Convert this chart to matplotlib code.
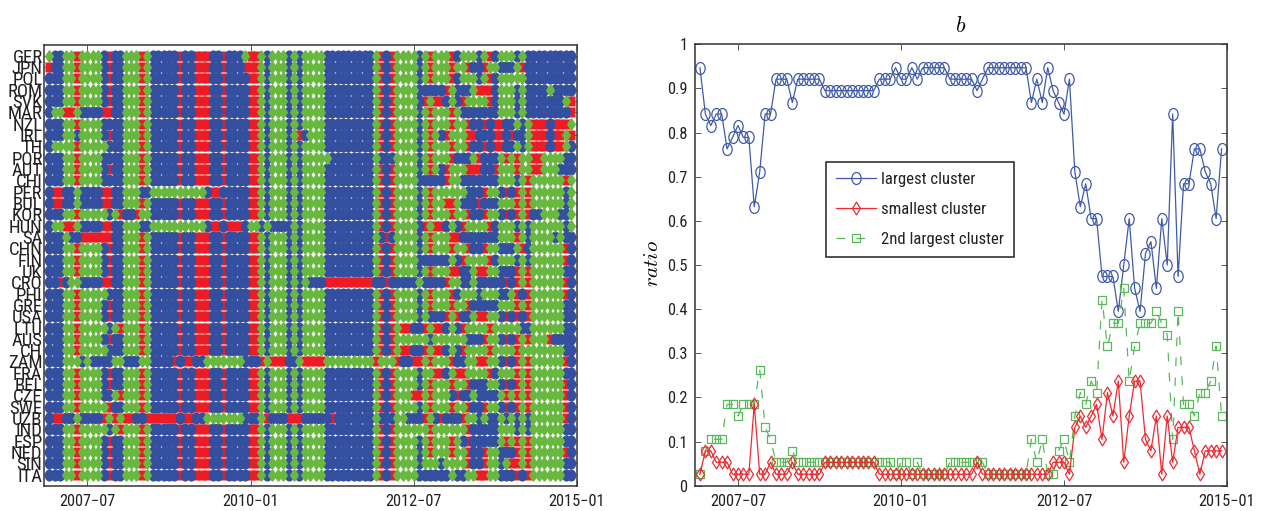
"""Cluster membership of 38 countries over time, and cluster size ratios."""

import numpy as np
import matplotlib
matplotlib.use("Agg")
import matplotlib.pyplot as plt
from matplotlib.path import Path

plt.rcParams["font.family"] = ["Roboto Condensed", "Roboto", "Liberation Sans", "DejaVu Sans"]
plt.rcParams["mathtext.fontset"] = "cm"

countries = ["GER", "JPN", "POL", "ROM", "SVK", "MAR", "NZL", "IRL", "TH", "POR", "AUT", "CHI", "PER",
             "BUL", "KOR", "HUN", "SA", "CHN", "FIN", "UK", "CRO", "PHI", "GRE", "USA", "LTU", "AUS",
             "CH", "ZAM", "FRA", "BEL", "CZE", "SWE", "UZB", "IND", "ESP", "NED", "SIN", "ITA"]

# one letter per month, 2006-12 to 2014-12 (b/r/g = cluster)
membership = [
    "gbbggrgggg brbbgggrgb bbbbrbbrrr bbrbbbgrrg bgggbgbggg gbbbbbbbbb grbrggggbg rgggrbgggb grbgggbgbb bbbbbbb",
    "rbbggrgggg brbbgggrgb bbbbrbbrrr bbrbbbrrrg bgggbgbggg gbbbbbbbbb grbrggggbg rgggrggrbb rggbbbgrbb bbbbbbb",
    "bbbggrgggg brbbgggrgb bbbbrbbrrr bbrbbbbrrg bgggbgbggg gbbbbbbbbb grbrggggbg rgggrbgggb grbgggggbb bbbbbbb",
    "bbbggrgggg brbbgggrgb bbbbrbbrrr bbrbbbbrrg bgggbgbggg gbbbbbbbbb grbrggggbb bbbrgbbbgr rrbgggbgbb bbgbbbb",
    "bbbggrgggg brbbgggrgb bbbbrbbrrr bbrbbbbrrg bgggbgbggg gbbbbbbbbb grbrggggbr grrbgbrggg grbgggbgbb bbbbbgr",
    "bggrrgbbbb rrbbgggrgb bbbbrbbrrr bbrbbbbrrg bgggbgbggg gbbbbbbbbb grbrggggbg rgggrgbbbb bbbgggbgbb bbbbbbr",
    "bbbggrgggg bbbbgggrgb bbbbrbbrrr bbrbbbbrrg bgggbgbggg gbbbbbbbbb grbrggggbg rgggrggrbb rbrrbbgbgr rrbrrrg",
    "bbbggbgggg brbbgggrgb bbbbrbbrrr bbrbbbbrrg bgggbgrbgg gbbbbbbbbb grbrggggbg rgbrgggrrb bbrrbrbbgr rrbrrgr",
    "bggggrgggg gbbbgggrgb bbbbrbbrrr bbrbbbbrrg bgggbgbggg gbbbbbbbbb grbrggggbg rgggrggrbb rbrrbbgbgr rrbrrgb",
    "bbbggrgggg bbbbgggrgb bbbbrbbrrr bbrbbbbrrg bgggbgbggg ggbbbbbbbb gbbbggggbg rgggrbbbgr bbbgrgrggr rggggbb",
    "bbbggrgggg brbbgggrgb bbbbrbbrrr bbrbbbbrrg bgggbgbggg gbbbbbbbbb grbrggggbg rgbrgggrrr bbrgggrggr rgggbbb",
    "bbbggrgggg bbbbgggrgb bbbbrbbrrr bbrbbbbrrg bgggbgbggg gbbbbbbbbb grbrggggbb bbbrggbbbb bbbgggbgrg gggggrg",
    "brrbbgbbbb rrbbgggbbg gggggggggb rrbbbbbrrg bgggbgbggg gbbbbbbbbb grbrggggbg rggggggbbb rggbrbrgrg gggggbg",
    "brrbbgbbbb rrbbgggrgb bbbbrbbrrr bbrbbbbrrg bgggbgbggg gbbbbbbbbb grbrggggbg rggrrgbbbr bbbgggrgrg gggggbg",
    "bbbggrgggg gbgrbbrggb bbbbrbbrrr bbrbbbbrrg bgggbgbggg gbbbbbbbbb grbrggggbg rgggrggrbb rggbrbrgrb bgggbbg",
    "bggrrgbbbb rrbbgggbbg gggggggggb rrbrrrbggb gbbbbgbggg gbbbbbbbbb grbrggggbr grrbgbrggg grbgggbgbg gggggbg",
    "bbbgbbrrrr rrbbgggrgb bbbbrbbrrr bbrbbbbrrg bgggbgbggg gbbbbbbbbb gbrbggggbg rgggrrbbbb bbbgggrgbg gggbgbb",
    "bbbggrgggg brbbgggrgb bbbbrbbrrr bbrbbbbrrg bgggbgbggg gbbbbbbbbb grbrggggbg rgggrggrbb rggbbbgrbg gggggrb",
    "bbbggrgggg brbbgggrgb bbbbrbbrrr bbrbbbbrrg bgggbgbggg gbbbbbbbbb grbrggggbb bbbbgbrggg grbgggbgbg gggggrb",
    "bbbggrgggg brbbgggrgb bbbbrbbrrr bbrbbbbrrg bgggbgbggg gbbbbbbbbb grbrggggbg rgggrrbbgr rggbbbrgrg gggggbb",
    "bbrbggbbbb rrbbgggrgb bbbbrbbrrr bbrbbbbrrg bgggbgbgbb brrrrrrrrr bbrbbbbbgb bbbrggbbgb bbbbrbrgrg gggggrb",
    "bbbggrgggg gbbbgggrgb bbbbrbbrrr bbrbbbbrrg bgggbgbggg gbbbbbbbbb grbrggggbg rgggrbgggb gggbbgrbrg gggggrb",
    "bbbggrgggg brbbgggrgb bbbbrbbrrr bbrbbbbrrg bgggbgbggg gbbbbbbbbb grbrggggbg rgggrggrbb bbbgggrgrg gggggbb",
    "bbbggrgggg brbbgggrgb bbbbrbbrrr bbrbbbbrrg bgggbgbggg gbbbbbbbbb grbrggggbg bbbrgrbbgr rggbrbrbrg gggggbb",
    "bbbggrgggg gbgrgggrgb bbbbrbbrrr bbrbbbbrrg bgggbgbggg gbbbbbbbbb grbrgrrbbr grrbgbrggg grgggggbbg gggggbb",
    "bbbggrgggg brbbgggrgb bbbbrbbrrr bbrbbbbrrg bgggbgbggg gbbbbbbbbb grbrgggggg bggggggbbb rggbrbrgrg ggrbbbb",
    "bbbggrgggg gbbbgggrgb bbbbrbbrrr bbrbbbbrrg bgggbgbggg gbbbbbbbbb grbrgrrbbr grrbgbrggg grggggrggg gggggbb",
    "bbbgggbgbb bbggbbbggb bbbrbrrbbg ggggggbbbr grrrbbgrrr rggggggggg rgggrbbrrg rgggrbbggr rggbrbrgrg gggggrb",
    "bbbggrgggg brbbgggrgb bbbbrbbrrr bbrbbbbrrg bgggbgbggg gbbbbbbbbb grbrggggbg grrbgrrggg grbgggrgrg gggggbb",
    "bbbggrgggg brbbgggrgb bbbbrbbrrr bbrbbbbrrg bgggbgbggg gbbbbbbbbb grbrggggbg rgggrggrbb bggbrbrgrg gggggrb",
    "bbbggrgggg bbgrgggrgb bbbbrbbrrr bbrbbbbrrg bgggbgbggg gbbbbbbbbb grbrgggrrg rgggbrbbgb bbbgrgrgrg gggggrb",
    "bbbggrgggg grbbgggrgb bbbbrbbrrr bbrbbbbrrg bgggbgbggg gbbbbbbbbb grbrggggbg rgggrggrbb rggbrbrgrg gggggrb",
    "brrbbgbbbb rgrgrrbbrr rrrrbrrbbg ggggggbbbg rbbbrrrbbb bbrbbbbbbb gbbbggbbbr gbrbbbrggb gbbgbgbgbg gggggrb",
    "bbbggrgggg gbgrgggrgb bbbbrbbrrr bbrbbbbrrg bgggbgbggg gbbbbbbbbb grbrgggggg rggggggrbb bbbgggbgbg gggggbb",
    "bbbggrgggg brbbgggrgb bbbbrbbrrr bbrbbbbrrg bgggbgbggg gbbbbbbbbb grbrggggbg rgggrgbrbb bbbgrgrgrg gggggbb",
    "bbbggrgggg brbbgggrgb bbbbrbbrrr bbrbbbbrrg bgggbgbggg gbbbbbbbbb grbrggggbg rgggrggrbb rggbbbrgrg gggggrb",
    "bbbggrgggg brbbgggrgb bbbbrbbrrr bbrbbbbrrg bgggbgbggg gbbbbbbbbb grbrggggbg ggbggggrbb rggbgrrgrg gggggbb",
    "bbbggrgggg brbbgggrgb bbbbrbbrrr bbrbbbbrrg bgggbgbggg gbbbbbbbbb grbrggggbb bbbbgbbggr rggbbbrbrg gggggbb",
]

largest = [0.947, 0.842, 0.816, 0.842, 0.842, 0.763, 0.789, 0.816, 0.789, 0.789,
           0.632, 0.711, 0.842, 0.842, 0.921, 0.921, 0.921, 0.868, 0.921, 0.921,
           0.921, 0.921, 0.921, 0.895, 0.895, 0.895, 0.895, 0.895, 0.895, 0.895,
           0.895, 0.895, 0.895, 0.921, 0.921, 0.921, 0.947, 0.921, 0.921, 0.947,
           0.921, 0.947, 0.947, 0.947, 0.947, 0.947, 0.921, 0.921, 0.921, 0.921,
           0.921, 0.895, 0.921, 0.947, 0.947, 0.947, 0.947, 0.947, 0.947, 0.947,
           0.947, 0.868, 0.921, 0.868, 0.947, 0.895, 0.868, 0.842, 0.921, 0.711,
           0.632, 0.684, 0.605, 0.605, 0.474, 0.474, 0.474, 0.395, 0.500, 0.605,
           0.447, 0.395, 0.526, 0.553, 0.447, 0.605, 0.500, 0.842, 0.474, 0.684,
           0.684, 0.763, 0.763, 0.711, 0.684, 0.605, 0.763]

smallest = [0.026, 0.079, 0.079, 0.053, 0.053, 0.053, 0.026, 0.026, 0.026, 0.026,
            0.184, 0.026, 0.026, 0.053, 0.026, 0.026, 0.026, 0.053, 0.026, 0.026,
            0.026, 0.026, 0.026, 0.053, 0.053, 0.053, 0.053, 0.053, 0.053, 0.053,
            0.053, 0.053, 0.053, 0.026, 0.026, 0.026, 0.026, 0.026, 0.026, 0.026,
            0.026, 0.026, 0.026, 0.026, 0.026, 0.026, 0.026, 0.026, 0.026, 0.026,
            0.026, 0.053, 0.026, 0.026, 0.026, 0.026, 0.026, 0.026, 0.026, 0.026,
            0.026, 0.026, 0.026, 0.026, 0.026, 0.053, 0.053, 0.053, 0.026, 0.132,
            0.158, 0.132, 0.158, 0.184, 0.105, 0.211, 0.158, 0.237, 0.053, 0.158,
            0.237, 0.237, 0.105, 0.079, 0.158, 0.026, 0.158, 0.053, 0.132, 0.132,
            0.132, 0.079, 0.026, 0.079, 0.079, 0.079, 0.079]

second = [0.026, 0.079, 0.105, 0.105, 0.105, 0.184, 0.184, 0.158, 0.184, 0.184,
          0.184, 0.263, 0.132, 0.105, 0.053, 0.053, 0.053, 0.079, 0.053, 0.053,
          0.053, 0.053, 0.053, 0.053, 0.053, 0.053, 0.053, 0.053, 0.053, 0.053,
          0.053, 0.053, 0.053, 0.053, 0.053, 0.053, 0.026, 0.053, 0.053, 0.026,
          0.053, 0.026, 0.026, 0.026, 0.026, 0.026, 0.053, 0.053, 0.053, 0.053,
          0.053, 0.053, 0.053, 0.026, 0.026, 0.026, 0.026, 0.026, 0.026, 0.026,
          0.026, 0.105, 0.053, 0.105, 0.026, 0.026, 0.079, 0.105, 0.053, 0.158,
          0.211, 0.184, 0.237, 0.211, 0.421, 0.316, 0.368, 0.368, 0.447, 0.237,
          0.316, 0.368, 0.368, 0.368, 0.395, 0.368, 0.342, 0.105, 0.395, 0.184,
          0.184, 0.158, 0.211, 0.211, 0.237, 0.316, 0.158]

tick_labels = ["2007\u221207", "2010\u221201", "2012\u221207", "2015\u221201"]
tick_months = [7, 37, 67, 97]
ratio_ticks = [0, 0.1, 0.2, 0.3, 0.4, 0.5, 0.6, 0.7, 0.8, 0.9, 1]
ratio_labels = ["0", "0.1", "0.2", "0.3", "0.4", "0.5", "0.6", "0.7", "0.8", "0.9", "1"]

W, H = 1268, 511
TEXT = "#222222"
TICK_FONT = 11.8


def ax_box(x0, x1, y0, y1):
    return [x0 / W, 1 - y1 / H, (x1 - x0) / W, (y1 - y0) / H]


def squeezed(path, wx):
    # the published figure is squeezed sideways, so are its markers
    return Path(path.vertices * [wx, 1.0], path.codes)


def style_axes(ax, ylen):
    for s in ax.spines.values():
        s.set_linewidth(1.1)
        s.set_color("#333333")
    ax.set_xlim(-1, 97)
    ax.set_xticks(tick_months)
    ax.set_xticklabels(tick_labels, fontsize=TICK_FONT, color=TEXT)
    ax.tick_params(axis="x", direction="in", length=4, width=0.7, top=True, pad=6, color="#555555")
    ax.tick_params(axis="y", direction="in", length=ylen, width=0.7, right=True, color="#555555")


circle_path = squeezed(Path.unit_circle(), 0.78)
open_diamond = squeezed(Path([(0, 1), (1, 0), (0, -1), (-1, 0), (0, 1)], closed=True), 0.62)
square_path = squeezed(Path([(-1, 1), (1, 1), (1, -1), (-1, -1), (-1, 1)], closed=True), 0.84)
block_path = squeezed(Path([(-1, 1), (1, 1), (1, -1), (-1, -1), (-1, 1)], closed=True), 0.72)
# bulging diamond, leaves only small white gaps between neighbours
fat_diamond = Path([(0, 1), (0.16, 0.88), (0.41, 0.52), (0.73, 0), (0.41, -0.52), (0.16, -0.88),
                    (0, -1), (-0.16, -0.88), (-0.41, -0.52), (-0.73, 0), (-0.41, 0.52), (-0.16, 0.88),
                    (0, 1)], closed=True)

fig = plt.figure(figsize=(W / 100, H / 100), dpi=100)

# left panel
ax1 = fig.add_axes(ax_box(44, 576.7, 44.5, 486))
cells = np.array([list(r.replace(" ", "")) for r in membership])
assert cells.shape == (38, 97), cells.shape
rows = 38 - np.arange(38)
cluster_styles = [("r", "#ed1c24", block_path, 7.6),
                  ("b", "#354fa0", circle_path, 8.8),
                  ("g", "#68b83f", fat_diamond, 9.1)]
for key, color, marker, ms in cluster_styles:
    iy, ix = np.where(cells == key)
    ax1.plot(ix, rows[iy], ls="none", marker=marker, ms=ms, mfc=color, mec="none")
style_axes(ax1, 2)
ax1.set_ylim(0, 39)
ax1.set_yticks(rows)
ax1.set_yticklabels(countries, fontsize=13.5, color=TEXT)
ax1.tick_params(axis="y", pad=1)

# right panel
ax2 = fig.add_axes(ax_box(694.5, 1227, 44.3, 485.7))
months = np.arange(len(largest))
ax2.plot(months, largest, color="#3f5aa8", lw=0.9, marker=circle_path, ms=8.6, mfc="none", mew=0.9,
         label="largest cluster")
ax2.plot(months, second, color="#5cb85c", lw=0.9, ls=(0, (7, 9)), marker=square_path, ms=6.4, mfc="none",
         mew=0.9, label="2nd largest cluster")
ax2.plot(months, smallest, color="#ee2a30", lw=0.9, marker=open_diamond, ms=9.2, mfc="none", mew=0.9,
         label="smallest cluster")
style_axes(ax2, 4)
ax2.set_ylim(0, 1)
ax2.set_yticks(ratio_ticks)
ax2.set_yticklabels(ratio_labels, fontsize=TICK_FONT, color=TEXT)
ax2.tick_params(axis="y", pad=5)
ax2.set_title(r"$b$", fontsize=16, pad=9)
ax2.set_ylabel(r"$ratio$", fontsize=15)
ax2.yaxis.set_label_coords((662 - 694.5) / 532.5, (485.7 - 264) / 441.4)

handles, labels = ax2.get_legend_handles_labels()
order = [0, 2, 1]
x0 = (826 - 694.5) / 532.5
y1 = (485.7 - 162) / 441.4
leg = ax2.legend([handles[i] for i in order], [labels[i] for i in order], loc="upper left",
                 bbox_to_anchor=(x0, y1), borderaxespad=0, fontsize=12.1, numpoints=1, fancybox=False,
                 framealpha=1, edgecolor="#222222", handlelength=2.4, handletextpad=0.3,
                 labelspacing=0.88, borderpad=0.6)
leg.get_frame().set_linewidth(1.1)
for t in leg.get_texts():
    t.set_color(TEXT)

fig.savefig("out.png", dpi=100)
